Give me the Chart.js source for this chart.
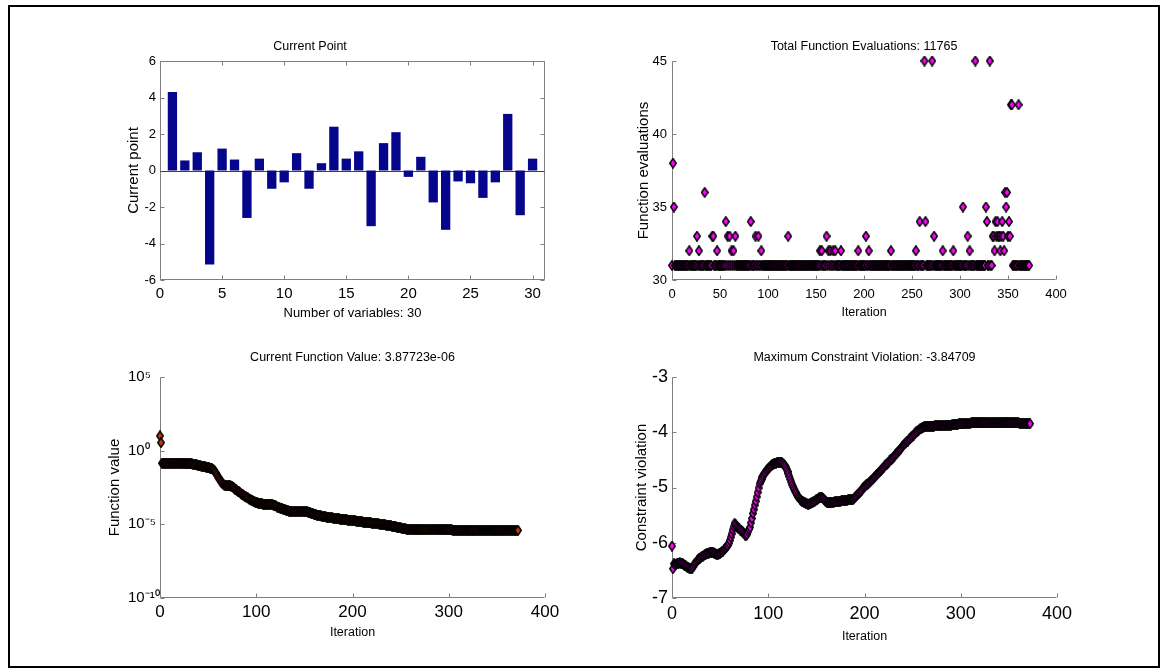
<!DOCTYPE html>
<html>
<head>
<meta charset="utf-8">
<title>Optimization progress</title>
<script src="https://cdn.jsdelivr.net/npm/chart.js@4.4.0/dist/chart.umd.min.js"></script>
<style>
    html, body { margin: 0; padding: 0; background: #fff; }
    body { width: 1165px; height: 672px; position: relative; overflow: hidden; }
    #frame { position: absolute; left: 8px; top: 5px; width: 1148px; height: 659px; border: 2px solid #000; }
    canvas { position: absolute; }
</style>
</head>
<body>
<div id="frame"></div>
<canvas id="pointChart" style="left:20px;top:30px" width="540" height="300"></canvas>
<canvas id="evalChart" style="left:572px;top:30px" width="524" height="300"></canvas>
<canvas id="fvalChart" style="left:60px;top:340px" width="525" height="308"></canvas>
<canvas id="cvChart" style="left:572px;top:340px" width="525" height="308"></canvas>
<script>
// ---- data ----
const pointIndex = [1,2,3,4,5,6,7,8,9,10,11,12,13,14,15,16,17,18,19,20,21,22,23,24,25,26,27,28,29,30];
const currentPoint = [4.3,0.55,1.0,-5.15,1.2,0.6,-2.6,0.65,-1.0,-0.65,0.95,-1.0,0.4,2.4,0.65,1.05,-3.05,1.5,2.1,-0.35,0.75,-1.75,-3.25,-0.6,-0.7,-1.5,-0.65,3.1,-2.45,0.65];
const pointXTicks = [0,5,10,15,20,25,30];
const pointYTicks = [-6,-4,-2,0,2,4,6];

// function evaluations per iteration (iteration = index)
const funcEvals = [
    31,38,35,31,31,31,31,31,31,31,31,31,31,31,31,31,31,31,32,31,
    31,31,31,31,31,31,33,31,32,31,31,31,31,31,36,31,31,31,31,31,
    31,31,33,33,31,31,31,32,31,31,31,31,31,31,31,31,34,31,33,31,
    33,31,32,31,32,31,33,31,31,31,31,31,31,31,31,31,31,31,31,31,
    31,31,34,31,31,31,31,33,31,31,33,31,31,32,31,31,31,31,31,31,
    31,31,31,31,31,31,31,31,31,31,31,31,31,31,31,31,31,31,31,31,
    31,33,31,31,31,31,31,31,31,31,31,31,31,31,31,31,31,31,31,31,
    31,31,31,31,31,31,31,31,31,31,31,31,31,31,32,31,32,31,31,31,
    31,33,31,32,31,32,31,31,32,31,32,31,31,31,31,31,32,31,31,31,
    31,31,31,31,31,31,31,31,31,31,31,31,31,31,32,31,31,31,31,31,
    31,31,33,31,31,32,31,31,31,31,31,31,31,31,31,31,31,31,31,31,
    31,31,31,31,31,31,31,31,32,31,31,31,31,31,31,31,31,31,31,31,
    31,31,31,31,31,31,31,31,31,31,31,31,31,31,32,31,31,31,34,31,
    31,31,31,45,34,31,31,31,31,31,31,45,31,33,31,31,31,31,31,31,
    31,31,32,31,31,31,31,31,31,31,31,31,31,32,31,31,31,31,31,31,
    31,31,31,35,31,31,31,31,33,31,32,31,31,31,31,31,45,31,31,31,
    31,31,31,31,31,31,31,35,34,31,31,45,31,31,33,33,32,34,33,34,
    33,33,32,33,34,33,32,36,35,36,33,34,33,42,42,31,31,31,31,31,
    31,42,31,31,31,31,31,31,31,31,31,31,31
];
const evalXTicks = [0,50,100,150,200,250,300,350,400];
const evalYTicks = [30,35,40,45];

// current function value per iteration
const funcValue = [
    10,3.5,1.4e-1,1.4e-1,1.4e-1,1.4e-1,1.4e-1,1.4e-1,1.4e-1,1.4e-1,
    1.4e-1,1.4e-1,1.4e-1,1.4e-1,1.4e-1,1.4e-1,1.4e-1,1.4e-1,1.4e-1,1.4e-1,
    1.4e-1,1.4e-1,1.4e-1,1.4e-1,1.4e-1,1.4e-1,1.3e-1,1.3e-1,1.3e-1,1.3e-1,
    1.3e-1,1.3e-1,1.3e-1,1.26e-1,1.2e-1,1.2e-1,1.15e-1,1.1e-1,1.07e-1,1.0e-1,
    1.0e-1,9.5e-2,9.3e-2,8.9e-2,8.7e-2,8.3e-2,7.9e-2,7.8e-2,7.4e-2,7.2e-2,
    6.9e-2,6.8e-2,6.6e-2,6.3e-2,6.0e-2,5.6e-2,4.8e-2,3.8e-2,3.0e-2,2.3e-2,
    1.7e-2,1.4e-2,1.1e-2,8.5e-3,6.8e-3,5.8e-3,5.0e-3,4.6e-3,4.3e-3,4.1e-3,
    4.1e-3,4.1e-3,4.0e-3,4.0e-3,3.9e-3,3.7e-3,3.4e-3,2.9e-3,2.5e-3,2.2e-3,
    1.9e-3,1.8e-3,1.6e-3,1.4e-3,1.3e-3,1.1e-3,1.0e-3,8.9e-4,8.1e-4,7.4e-4,
    6.8e-4,6.2e-4,5.6e-4,5.1e-4,4.7e-4,4.4e-4,4.0e-4,3.7e-4,3.5e-4,3.2e-4,
    3.0e-4,2.9e-4,2.8e-4,2.6e-4,2.6e-4,2.5e-4,2.4e-4,2.3e-4,2.3e-4,2.3e-4,
    2.3e-4,2.3e-4,2.3e-4,2.3e-4,2.3e-4,2.3e-4,2.3e-4,2.2e-4,2.0e-4,1.9e-4,
    1.8e-4,1.7e-4,1.5e-4,1.4e-4,1.3e-4,1.26e-4,1.2e-4,1.1e-4,1.05e-4,1.0e-4,
    9.5e-5,9.1e-5,8.7e-5,8.3e-5,7.9e-5,7.8e-5,7.6e-5,7.4e-5,7.4e-5,7.4e-5,
    7.4e-5,7.4e-5,7.4e-5,7.4e-5,7.4e-5,7.4e-5,7.4e-5,7.4e-5,7.4e-5,7.4e-5,
    7.4e-5,7.4e-5,7.4e-5,7.1e-5,6.8e-5,6.3e-5,6.0e-5,5.6e-5,5.4e-5,5.1e-5,
    4.9e-5,4.7e-5,4.5e-5,4.3e-5,4.1e-5,4.0e-5,3.8e-5,3.7e-5,3.6e-5,3.5e-5,
    3.4e-5,3.3e-5,3.2e-5,3.1e-5,3.0e-5,2.95e-5,2.9e-5,2.85e-5,2.8e-5,2.7e-5,
    2.6e-5,2.55e-5,2.5e-5,2.45e-5,2.4e-5,2.4e-5,2.35e-5,2.3e-5,2.25e-5,2.2e-5,
    2.2e-5,2.1e-5,2.1e-5,2.05e-5,2.0e-5,1.95e-5,1.9e-5,1.9e-5,1.85e-5,1.8e-5,
    1.8e-5,1.75e-5,1.7e-5,1.7e-5,1.65e-5,1.6e-5,1.6e-5,1.55e-5,1.5e-5,1.5e-5,
    1.45e-5,1.4e-5,1.4e-5,1.35e-5,1.35e-5,1.3e-5,1.3e-5,1.3e-5,1.25e-5,1.25e-5,
    1.2e-5,1.2e-5,1.18e-5,1.16e-5,1.14e-5,1.12e-5,1.1e-5,1.08e-5,1.05e-5,1.03e-5,
    1.0e-5,9.8e-6,9.6e-6,9.4e-6,9.1e-6,8.9e-6,8.7e-6,8.5e-6,8.2e-6,8.0e-6,
    7.8e-6,7.5e-6,7.3e-6,7.1e-6,6.9e-6,6.7e-6,6.5e-6,6.3e-6,6.1e-6,5.9e-6,
    5.7e-6,5.5e-6,5.3e-6,5.1e-6,5.0e-6,4.9e-6,4.8e-6,4.7e-6,4.6e-6,4.6e-6,
    4.5e-6,4.5e-6,4.45e-6,4.4e-6,4.4e-6,4.4e-6,4.4e-6,4.4e-6,4.4e-6,4.4e-6,
    4.4e-6,4.4e-6,4.4e-6,4.4e-6,4.4e-6,4.4e-6,4.4e-6,4.4e-6,4.4e-6,4.4e-6,
    4.4e-6,4.4e-6,4.4e-6,4.4e-6,4.4e-6,4.4e-6,4.4e-6,4.4e-6,4.4e-6,4.4e-6,
    4.4e-6,4.3e-6,4.3e-6,4.3e-6,4.3e-6,4.3e-6,4.3e-6,4.3e-6,4.3e-6,4.3e-6,
    4.3e-6,4.25e-6,4.2e-6,4.15e-6,4.1e-6,4.05e-6,4.0e-6,3.95e-6,3.9e-6,3.9e-6,
    3.9e-6,3.9e-6,3.9e-6,3.9e-6,3.9e-6,3.9e-6,3.9e-6,3.9e-6,3.9e-6,3.9e-6,
    3.88e-6,3.88e-6,3.88e-6,3.88e-6,3.88e-6,3.88e-6,3.88e-6,3.88e-6,3.88e-6,3.88e-6,
    3.88e-6,3.88e-6,3.88e-6,3.88e-6,3.88e-6,3.88e-6,3.88e-6,3.88e-6,3.88e-6,3.88e-6,
    3.88e-6,3.88e-6,3.88e-6,3.88e-6,3.88e-6,3.88e-6,3.88e-6,3.88e-6,3.88e-6,3.88e-6,
    3.88e-6,3.88e-6,3.88e-6,3.88e-6,3.88e-6,3.88e-6,3.88e-6,3.88e-6,3.88e-6,3.88e-6,
    3.88e-6,3.88e-6,3.88e-6,3.88e-6,3.88e-6,3.88e-6,3.88e-6,3.88e-6,3.88e-6,3.88e-6,
    3.88e-6,3.88e-6,3.877e-6
];
const fvalXTicks = [0,100,200,300,400];
const fvalTickValues = [1e-10,1e-5,1,1e5];
const fvalTickLabels = ['10⁻¹⁰','10⁻⁵','10⁰','10⁵'];

// maximum constraint violation per iteration
const constraintViolation = [
    -6.06,-6.47,-6.38,-6.39,-6.39,-6.38,-6.37,-6.37,-6.36,-6.37,
    -6.37,-6.38,-6.39,-6.41,-6.42,-6.43,-6.44,-6.45,-6.46,-6.47,
    -6.47,-6.46,-6.43,-6.40,-6.37,-6.35,-6.33,-6.31,-6.29,-6.28,
    -6.26,-6.25,-6.24,-6.23,-6.22,-6.21,-6.20,-6.19,-6.19,-6.18,
    -6.18,-6.17,-6.17,-6.18,-6.19,-6.20,-6.21,-6.21,-6.21,-6.20,
    -6.19,-6.17,-6.16,-6.15,-6.13,-6.11,-6.09,-6.07,-6.05,-6.01,
    -5.96,-5.90,-5.84,-5.77,-5.71,-5.65,-5.67,-5.70,-5.72,-5.74,
    -5.75,-5.77,-5.78,-5.80,-5.82,-5.84,-5.86,-5.87,-5.85,-5.80,
    -5.76,-5.72,-5.64,-5.56,-5.47,-5.40,-5.32,-5.25,-5.17,-5.09,
    -5.01,-4.93,-4.89,-4.85,-4.81,-4.78,-4.75,-4.73,-4.70,-4.68,
    -4.66,-4.64,-4.62,-4.61,-4.59,-4.58,-4.57,-4.56,-4.56,-4.55,
    -4.55,-4.54,-4.54,-4.54,-4.55,-4.56,-4.58,-4.60,-4.63,-4.67,
    -4.71,-4.75,-4.80,-4.85,-4.90,-4.95,-4.99,-5.03,-5.07,-5.10,
    -5.14,-5.17,-5.19,-5.21,-5.23,-5.25,-5.26,-5.27,-5.28,-5.29,
    -5.29,-5.30,-5.30,-5.29,-5.29,-5.28,-5.27,-5.26,-5.25,-5.24,
    -5.22,-5.21,-5.20,-5.19,-5.18,-5.18,-5.19,-5.20,-5.22,-5.24,
    -5.26,-5.27,-5.28,-5.28,-5.28,-5.27,-5.27,-5.27,-5.27,-5.26,
    -5.26,-5.26,-5.26,-5.25,-5.25,-5.25,-5.24,-5.24,-5.24,-5.23,
    -5.23,-5.23,-5.23,-5.22,-5.22,-5.22,-5.22,-5.22,-5.22,-5.20,
    -5.18,-5.16,-5.14,-5.12,-5.11,-5.09,-5.07,-5.05,-5.02,-5.00,
    -4.98,-4.97,-4.95,-4.94,-4.92,-4.91,-4.89,-4.87,-4.86,-4.84,
    -4.82,-4.80,-4.78,-4.76,-4.74,-4.73,-4.71,-4.69,-4.67,-4.65,
    -4.63,-4.61,-4.59,-4.58,-4.56,-4.54,-4.52,-4.50,-4.49,-4.47,
    -4.45,-4.43,-4.41,-4.39,-4.37,-4.35,-4.33,-4.31,-4.29,-4.26,
    -4.24,-4.22,-4.21,-4.19,-4.17,-4.16,-4.14,-4.12,-4.10,-4.08,
    -4.07,-4.05,-4.03,-4.01,-3.99,-3.98,-3.96,-3.95,-3.94,-3.93,
    -3.92,-3.91,-3.90,-3.90,-3.89,-3.89,-3.89,-3.89,-3.89,-3.89,
    -3.89,-3.89,-3.89,-3.88,-3.88,-3.88,-3.88,-3.88,-3.88,-3.88,
    -3.88,-3.88,-3.88,-3.88,-3.87,-3.87,-3.87,-3.87,-3.87,-3.87,
    -3.87,-3.86,-3.86,-3.86,-3.86,-3.86,-3.86,-3.86,-3.85,-3.85,
    -3.85,-3.85,-3.85,-3.85,-3.84,-3.84,-3.84,-3.84,-3.84,-3.84,
    -3.84,-3.83,-3.83,-3.83,-3.83,-3.83,-3.83,-3.83,-3.83,-3.83,
    -3.83,-3.83,-3.83,-3.83,-3.83,-3.83,-3.83,-3.83,-3.83,-3.83,
    -3.83,-3.83,-3.83,-3.83,-3.83,-3.83,-3.83,-3.83,-3.83,-3.83,
    -3.83,-3.83,-3.83,-3.83,-3.83,-3.83,-3.83,-3.83,-3.83,-3.83,
    -3.83,-3.83,-3.83,-3.83,-3.83,-3.83,-3.83,-3.83,-3.83,-3.83,
    -3.83,-3.835,-3.835,-3.84,-3.84,-3.84,-3.84,-3.845,-3.845,-3.845,
    -3.847,-3.847,-3.847
];
const cvXTicks = [0,100,200,300,400];
const cvYTicks = [-7,-6,-5,-4,-3];

// ---- styling ----
const SANS = '"Liberation Sans", Arial, sans-serif';
const AXIS_GRAY = '#7f7f7f';

Chart.defaults.font.family = SANS;
Chart.defaults.color = '#000';

// MATLAB-like diamond marker, a bit taller than wide
function diamond(w, h, fill) {
    const c = document.createElement('canvas');
    c.width = w;
    c.height = h;
    const g = c.getContext('2d');
    g.beginPath();
    g.moveTo(w / 2, 0.75);
    g.lineTo(w - 0.75, h / 2);
    g.lineTo(w / 2, h - 0.75);
    g.lineTo(0.75, h / 2);
    g.closePath();
    g.fillStyle = fill;
    g.fill();
    g.strokeStyle = '#000';
    g.lineWidth = 1.4;
    g.stroke();
    return c;
}

// axis lines + inward tick marks (and optional box / zero baseline)
const matlabAxes = {
    id: 'matlabAxes',
    beforeDatasetsDraw(chart, args, opts) {
        const { ctx, chartArea: a, scales } = chart;
        const len = 4;
        const L = Math.round(a.left) + 0.5;
        const R = Math.round(a.right) - 0.5;
        const T = Math.round(a.top) + 0.5;
        const B = Math.round(a.bottom) - 0.5;
        ctx.save();
        ctx.strokeStyle = AXIS_GRAY;
        ctx.lineWidth = 1;
        ctx.beginPath();
        ctx.moveTo(L, T);
        ctx.lineTo(L, B);
        ctx.lineTo(R, B);
        if (opts.box) {
            ctx.lineTo(R, T);
            ctx.lineTo(L, T);
        }
        scales.x.ticks.forEach(t => {
            const px = Math.round(scales.x.getPixelForValue(t.value)) + 0.5;
            ctx.moveTo(px, B);
            ctx.lineTo(px, B - len);
            if (opts.box) {
                ctx.moveTo(px, T);
                ctx.lineTo(px, T + len);
            }
        });
        scales.y.ticks.forEach(t => {
            const py = Math.round(scales.y.getPixelForValue(t.value)) + 0.5;
            ctx.moveTo(L, py);
            ctx.lineTo(L + len, py);
            if (opts.box) {
                ctx.moveTo(R, py);
                ctx.lineTo(R - len, py);
            }
        });
        ctx.stroke();
        if (opts.zeroLine) {
            const py = Math.round(scales.y.getPixelForValue(0)) + 0.5;
            ctx.strokeStyle = '#404040';
            ctx.beginPath();
            ctx.moveTo(L, py);
            ctx.lineTo(R, py);
            ctx.stroke();
        }
        ctx.restore();
    }
};

function xAxis(cfg) {
    return {
        type: 'linear',
        min: cfg.min,
        max: cfg.max,
        offset: false,
        grid: { display: false, drawTicks: false },
        border: { display: false },
        afterBuildTicks: (axis) => { axis.ticks = cfg.ticks.map(v => ({ value: v })); },
        afterFit: (axis) => { axis.height = cfg.size; },
        ticks: {
            font: { size: cfg.tickSize },
            padding: cfg.tickPad,
            maxRotation: 0,
            autoSkip: false,
            callback: (v) => String(v)
        },
        title: {
            display: true,
            text: cfg.title,
            font: { size: cfg.titleSize },
            padding: { top: 0, bottom: cfg.titlePad }
        }
    };
}

function yAxis(cfg) {
    return {
        type: cfg.type || 'linear',
        min: cfg.min,
        max: cfg.max,
        grid: { display: false, drawTicks: false },
        border: { display: false },
        afterBuildTicks: (axis) => { axis.ticks = cfg.ticks.map(v => ({ value: v })); },
        afterFit: (axis) => { axis.width = cfg.size; },
        ticks: {
            font: { size: cfg.tickSize },
            padding: cfg.tickPad,
            crossAlign: cfg.crossAlign || 'near',
            autoSkip: false,
            callback: cfg.callback || ((v) => String(v))
        },
        title: {
            display: true,
            text: cfg.title,
            font: { size: 15 },
            padding: { top: cfg.titlePad, bottom: 0 }
        }
    };
}

function chartTitle(text, top, bottom, fullSize) {
    return {
        display: true,
        text: text,
        fullSize: fullSize,
        color: '#000',
        font: { size: 12.5, weight: 'normal' },
        padding: { top: top, bottom: bottom }
    };
}

const common = { responsive: false, animation: false, events: [] };

// ---- Current Point (bar) ----
new Chart(document.getElementById('pointChart'), {
    type: 'bar',
    data: {
        datasets: [{
            data: pointIndex.map((x, i) => ({ x: x, y: currentPoint[i] })),
            backgroundColor: '#06068c',
            borderWidth: 0,
            barPercentage: 0.75,
            categoryPercentage: 1
        }]
    },
    options: {
        ...common,
        layout: { padding: { left: 55, right: 15, top: 0, bottom: 0 } },
        plugins: {
            legend: { display: false },
            tooltip: { enabled: false },
            title: chartTitle('Current Point', 9.5, 6.5, true),
            matlabAxes: { box: true, zeroLine: true }
        },
        scales: {
            x: xAxis({ min: 0, max: 31, ticks: pointXTicks, size: 50, tickSize: 15, tickPad: 5,
                       title: 'Number of variables: 30', titleSize: 13, titlePad: 8.7 }),
            y: yAxis({ min: -6, max: 6, ticks: pointYTicks, size: 85, tickSize: 13, tickPad: 4,
                       title: 'Current point', titlePad: 50 })
        }
    },
    plugins: [matlabAxes]
});

// ---- Total Function Evaluations (scatter) ----
new Chart(document.getElementById('evalChart'), {
    type: 'scatter',
    data: {
        datasets: [{
            data: funcEvals.map((v, i) => ({ x: i, y: v })),
            pointStyle: diamond(8, 11, '#ff00ff'),
            pointRadius: 5,
            showLine: false,
            clip: false
        }]
    },
    options: {
        ...common,
        layout: { padding: { left: 0, right: 40, top: 0, bottom: 0 } },
        plugins: {
            legend: { display: false },
            tooltip: { enabled: false },
            title: chartTitle('Total Function Evaluations: 11765', 9.5, 6.5, false),
            matlabAxes: { box: false }
        },
        scales: {
            x: xAxis({ min: 0, max: 400, ticks: evalXTicks, size: 50, tickSize: 13, tickPad: 6.7,
                       title: 'Iteration', titleSize: 12.5, titlePad: 10 }),
            y: yAxis({ min: 30, max: 45, ticks: evalYTicks, size: 100, tickSize: 13, tickPad: 5,
                       title: 'Function evaluations', titlePad: 63 })
        }
    },
    plugins: [matlabAxes]
});

// ---- Current Function Value (log scatter) ----
new Chart(document.getElementById('fvalChart'), {
    type: 'scatter',
    data: {
        datasets: [{
            data: funcValue.map((v, i) => ({ x: i, y: v })),
            pointStyle: diamond(8, 11, '#c0360f'),
            pointRadius: 5,
            showLine: false,
            clip: false
        }]
    },
    options: {
        ...common,
        layout: { padding: { left: 68, right: 40, top: 0, bottom: 0 } },
        plugins: {
            legend: { display: false },
            tooltip: { enabled: false },
            title: chartTitle('Current Function Value: 3.87723e-06', 10.5, 11.5, false),
            matlabAxes: { box: false }
        },
        scales: {
            x: xAxis({ min: 0, max: 400, ticks: fvalXTicks, size: 50, tickSize: 17, tickPad: 4.3,
                       title: 'Iteration', titleSize: 12.5, titlePad: 8 }),
            y: yAxis({ type: 'logarithmic', min: 1e-10, max: 1e5, ticks: fvalTickValues, size: 32,
                       tickSize: 15, tickPad: 4, crossAlign: 'far', title: 'Function value', titlePad: -22,
                       callback: (v) => fvalTickLabels[fvalTickValues.indexOf(v)] })
        }
    },
    plugins: [matlabAxes]
});

// ---- Maximum Constraint Violation (scatter) ----
new Chart(document.getElementById('cvChart'), {
    type: 'scatter',
    data: {
        datasets: [{
            data: constraintViolation.map((v, i) => ({ x: i, y: v })),
            pointStyle: diamond(8, 11, '#ff00ff'),
            pointRadius: 5,
            showLine: false,
            clip: false
        }]
    },
    options: {
        ...common,
        layout: { padding: { left: 0, right: 40, top: 0, bottom: 0 } },
        plugins: {
            legend: { display: false },
            tooltip: { enabled: false },
            title: chartTitle('Maximum Constraint Violation: -3.84709', 10.5, 11.5, false),
            matlabAxes: { box: false }
        },
        scales: {
            x: xAxis({ min: 0, max: 400, ticks: cvXTicks, size: 50, tickSize: 18, tickPad: 5.2,
                       title: 'Iteration', titleSize: 12.5, titlePad: 4 }),
            y: yAxis({ min: -7, max: -3, ticks: cvYTicks, size: 100, tickSize: 18, tickPad: 4,
                       title: 'Constraint violation', titlePad: 61 })
        }
    },
    plugins: [matlabAxes]
});
</script>
</body>
</html>
